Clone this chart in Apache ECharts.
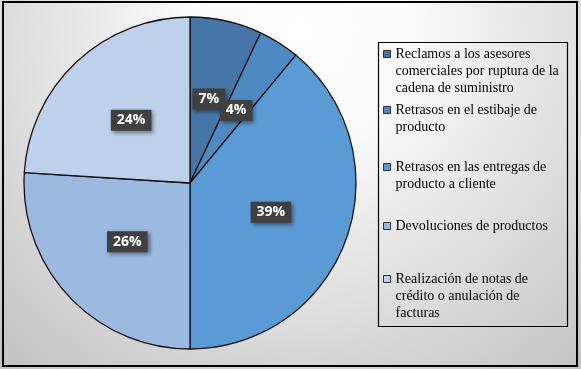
<!DOCTYPE html>
<html>
<head>
<meta charset="utf-8">
<script src="https://cdn.jsdelivr.net/npm/echarts@6/dist/echarts.min.js"></script>
<style>html,body{margin:0;padding:0;background:#fff}#c{width:581px;height:369px}</style>
</head>
<body>
<div id="c"></div>
<script>
var categories = [
  'Reclamos a los asesores comerciales por ruptura de la cadena de suministro',
  'Retrasos en el estibaje de producto',
  'Retrasos en las entregas de producto a cliente',
  'Devoluciones de productos',
  'Realización de notas de crédito o anulación de facturas'
];
var legendLines = [
  ['Reclamos a los asesores', 'comerciales por ruptura de la', 'cadena de suministro'],
  ['Retrasos en el estibaje de', 'producto'],
  ['Retrasos en las entregas de', 'producto a cliente'],
  ['Devoluciones de productos'],
  ['Realización de notas de', 'crédito o anulación de', 'facturas']
];
var values = [7, 4, 39, 26, 24];
var colors = ['#4676A8', '#4E89C2', '#5B9BD5', '#9CB9E0', '#BDD1EB'];

var legendCenters = [54, 110, 167, 226, 279];
var LH = 17;

var chart = echarts.init(document.getElementById('c'), null, {renderer: 'canvas'});

var legends = categories.map(function (name, i) {
  var n = legendLines[i].length;
  var blanks = [];
  for (var k = 0; k < n - 1; k++) blanks.push(' ');
  var txt = blanks.concat(legendLines[i]).join('\n');
  return {
    data: [name],
    orient: 'vertical',
    left: 383,
    top: legendCenters[i] - (2 * n - 1) * LH / 2,
    padding: 0,
    icon: 'rect',
    itemWidth: 7,
    itemHeight: 7,
    itemStyle: {borderColor: '#303030', borderWidth: 1},
    selectedMode: false,
    formatter: function () { return txt; },
    textStyle: {
      fontFamily: 'Liberation Serif',
      fontSize: 14,
      color: '#000',
      lineHeight: LH
    }
  };
});

chart.setOption({
  animation: false,
  color: colors,
  textStyle: {fontFamily: 'Liberation Serif'},
  graphic: [
    {
      type: 'rect',
      z: -10,
      shape: {x: 0, y: 0, width: 581, height: 369},
      style: {
        fill: {
          type: 'radial', x: 300, y: 30, r: 450, global: true,
          colorStops: [{offset: 0, color: '#ffffff'}, {offset: 0.25, color: '#fafafa'}, {offset: 1, color: '#c2c2c2'}]
        }
      }
    },
    {
      type: 'rect',
      z: -5,
      shape: {x: 3, y: 2, width: 574, height: 364},
      style: {fill: 'none', stroke: '#000', lineWidth: 2}
    },
    {
      type: 'rect',
      z: -5,
      shape: {x: 378.5, y: 42.5, width: 189, height: 284},
      style: {fill: 'none', stroke: '#000', lineWidth: 1.2}
    }
  ],
  legend: legends,
  series: [{
    type: 'pie',
    center: [190, 183],
    radius: 166,
    startAngle: 90,
    clockwise: true,
    percentPrecision: 0,
    avoidLabelOverlap: false,
    labelLayout: {hideOverlap: false},
    itemStyle: {borderColor: '#111', borderWidth: 1.3},
    label: {
      show: true,
      position: 'inside',
      formatter: '{d}%',
      color: '#fff',
      fontFamily: 'Open Sans',
      fontWeight: 'bold',
      fontSize: 14,
      backgroundColor: '#404040',
      padding: [4, 6, 3, 6],
      shadowColor: 'rgba(0,0,0,0.45)',
      shadowBlur: 4,
      shadowOffsetX: 2,
      shadowOffsetY: 2
    },
    labelLine: {show: false},
    emphasis: {disabled: true},
    data: categories.map(function (c, i) { return {name: c, value: values[i]}; })
  }]
});
</script>
</body>
</html>
